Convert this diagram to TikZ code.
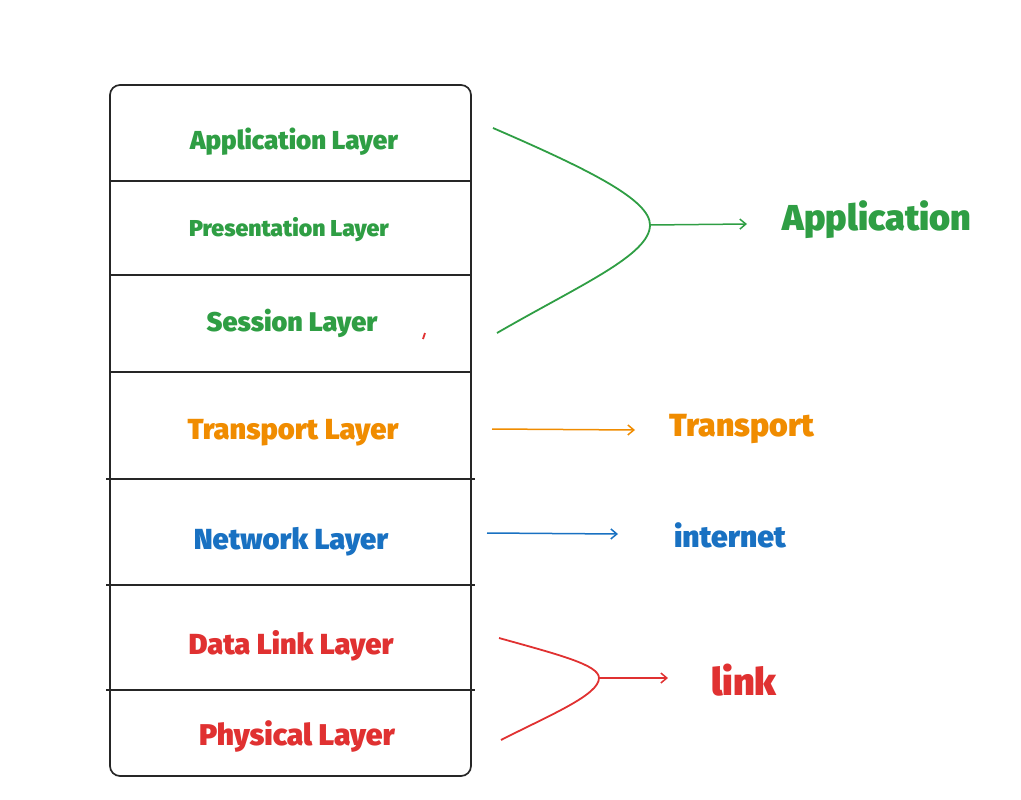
\documentclass[tikz,border=0pt]{standalone}
\usepackage{fontspec}
\setmainfont{Fira Sans}
\newfontfamily\heavy{Fira Sans Black}
\usetikzlibrary{arrows.meta}
\definecolor{cgreen}{HTML}{2F9E44}
\definecolor{corange}{HTML}{F08C00}
\definecolor{cblue}{HTML}{1971C2}
\definecolor{cred}{HTML}{E03131}
\newcommand\fs[1]{\heavy\fontsize{#1}{#1}\selectfont}
\begin{document}
\begin{tikzpicture}[x=1pt,y=-1pt,
  layer/.style={inner sep=0pt},
  sep/.style={draw=black!85,line width=1.5pt},
  conn/.style={line width=1.8pt},
  arr/.style={line width=1.5pt,-{Straight Barb[length=6pt,width=10pt]}}]
\useasboundingbox (0,0) rectangle (1021,800);
\node[draw=black!85,line width=1.7pt,rounded corners=10pt,minimum width=361pt,minimum height=691pt,inner sep=0pt] (stack) at (290.5,430.5) {};
\draw[sep] (110,181) -- (471,181);
\draw[sep] (110,275) -- (471,275);
\draw[sep] (110,372) -- (471,372);
\draw[sep] (106,479) -- (475,479);
\draw[sep] (106,585) -- (475,585);
\draw[sep] (106,690) -- (475,690);
\node[layer,text=cgreen,font=\fs{26}] (app) at (294,142) {Application Layer};
\node[layer,text=cgreen,font=\fs{23}] (pres) at (289,230) {Presentation Layer};
\node[layer,text=cgreen,font=\fs{27}] (sess) at (292,323) {Session Layer};
\node[layer,text=corange,font=\fs{29}] (trans) at (293,433) {Transport Layer};
\node[layer,text=cblue,font=\fs{29}] (net) at (291,542) {Network Layer};
\node[layer,text=cred,font=\fs{29}] (dll) at (291,646) {Data Link Layer};
\node[layer,text=cred,font=\fs{30}] (phy) at (297,736) {Physical Layer};
\node[layer,text=cgreen,font=\fs{36}] (A) at (877,220) {Application};
\node[layer,text=corange,font=\fs{32}] (T) at (742,429) {Transport};
\node[layer,text=cblue,font=\fs{30}] (I) at (730,535) {internet};
\node[layer,text=cred,font=\fs{38}] (L) at (744,680) {link};
\coordinate (g1) at (493,128);
\coordinate (gv) at (650,225);
\coordinate (g2) at (497,333);
\coordinate (ge) at (747,224);
\draw[conn,cgreen] (g1) .. controls (590,170) and (650,200) .. (gv) .. controls (650,255) and (580,285) .. (g2);
\draw[arr,cgreen] (gv) -- (ge);
\coordinate (ts) at (492,429);
\coordinate (te) at (635,430);
\draw[arr,corange] (ts) -- (te);
\coordinate (ns) at (487,533);
\coordinate (ne) at (618,534);
\draw[arr,cblue] (ns) -- (ne);
\coordinate (r1) at (499,638);
\coordinate (rv) at (599,678);
\coordinate (r2) at (501,740);
\coordinate (re) at (668,678);
\draw[conn,cred] (r1) .. controls (560,655) and (599,665) .. (rv) .. controls (599,695) and (550,715) .. (r2);
\draw[arr,cred] (rv) -- (re);
\coordinate (m1) at (423,339);
\coordinate (m2) at (425,333);
\draw[cred,line width=1.8pt] (m1) -- (m2);
\end{tikzpicture}
\end{document}
